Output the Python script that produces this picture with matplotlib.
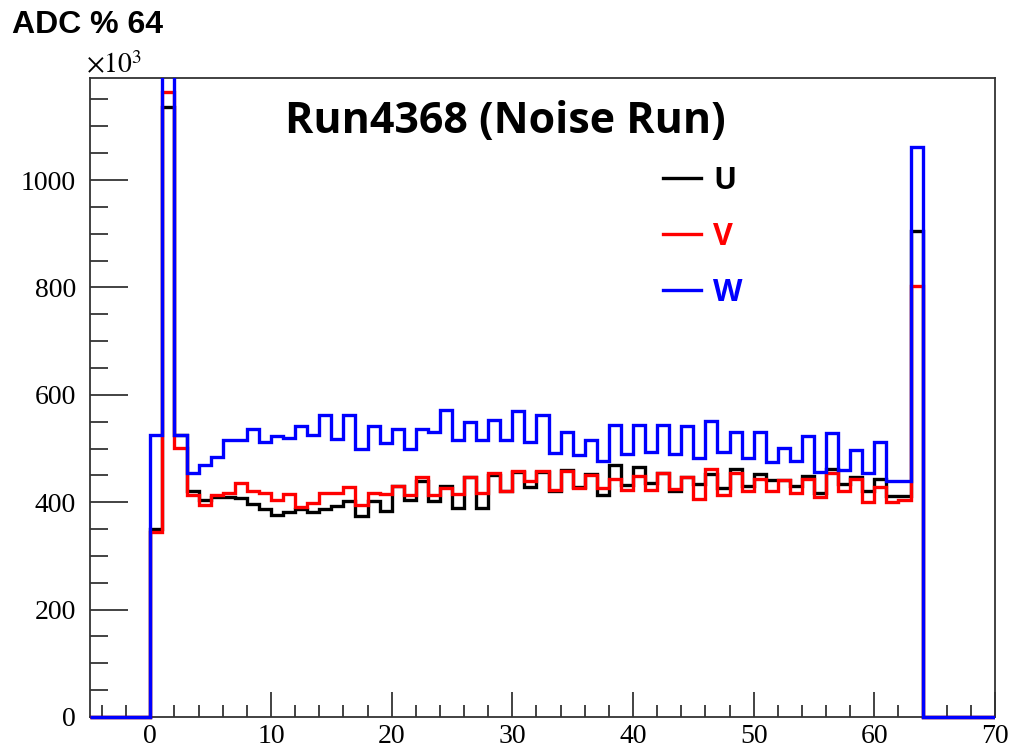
import numpy as np
import matplotlib
matplotlib.use("Agg")
import matplotlib.pyplot as plt
from matplotlib.ticker import MultipleLocator
from matplotlib.transforms import Bbox, TransformedBbox

# ---- data (counts in units of 10^3), bins of width 1 from 0 to 64 ----
u_counts = [351, 1136, 526, 421, 405, 410, 410, 407, 397, 387,
            376, 382, 387, 382, 387, 393, 403, 374, 403, 384,
            430, 405, 440, 403, 430, 389, 447, 390, 450, 420,
            457, 429, 456, 420, 460, 428, 452, 413, 469, 432,
            465, 435, 454, 420, 447, 434, 452, 426, 461, 430,
            452, 441, 441, 430, 449, 418, 461, 434, 447, 420,
            444, 411, 411, 905]
v_counts = [345, 1164, 501, 413, 395, 413, 417, 435, 420, 417,
            405, 415, 392, 398, 417, 417, 428, 395, 417, 415,
            430, 413, 447, 413, 427, 415, 447, 418, 454, 420,
            458, 440, 458, 423, 458, 427, 451, 427, 443, 422,
            449, 422, 454, 424, 447, 406, 462, 413, 454, 420,
            444, 420, 441, 417, 444, 410, 454, 420, 443, 401,
            429, 401, 405, 803]
w_counts = [525, 1300, 525, 455, 469, 484, 516, 516, 536, 513,
            523, 519, 541, 525, 562, 517, 562, 500, 541, 511,
            536, 500, 536, 531, 572, 516, 550, 516, 554, 516,
            569, 513, 562, 491, 531, 488, 516, 476, 544, 490,
            544, 493, 544, 490, 541, 482, 552, 494, 531, 482,
            531, 475, 501, 477, 523, 456, 529, 460, 497, 455,
            513, 440, 440, 1062]
series_labels = ["U", "V", "W"]
series_colors = ["#000000", "#ff0000", "#0000ff"]
x_min, x_max = -5, 70
first_bin = 0

edges = np.arange(x_min, x_max + 1)


def full_hist(vals):
    arr = np.zeros(len(edges) - 1)
    start = first_bin - x_min
    arr[start:start + len(vals)] = vals
    return arr


plt.rcParams["mathtext.fontset"] = "stix"

fig = plt.figure(figsize=(10.15, 7.52), dpi=100)
ax = fig.add_axes([90 / 1015, 35 / 752, 905 / 1015, 639 / 752])

clip = TransformedBbox(Bbox([[0, -0.01], [1, 1]]), ax.transAxes)
handles = []
for vals, lab, col in zip([u_counts, v_counts, w_counts], series_labels, series_colors):
    h = ax.stairs(full_hist(vals), edges, color=col, lw=2.4, label=lab, zorder=3)
    h.set_clip_box(clip)
    handles.append(h)

ax.set_xlim(x_min, x_max)
ax.set_ylim(0, 1190)

ax.xaxis.set_major_locator(MultipleLocator(10))
ax.xaxis.set_minor_locator(MultipleLocator(2))
ax.yaxis.set_major_locator(MultipleLocator(200))
ax.yaxis.set_minor_locator(MultipleLocator(50))

ax.tick_params(axis="both", which="both", direction="in", top=False, right=False,
               color="#222222", width=1.2)
ax.tick_params(axis="x", which="major", length=18, pad=5)
ax.tick_params(axis="x", which="minor", length=9)
ax.tick_params(axis="y", which="major", length=27, pad=10)
ax.tick_params(axis="y", which="minor", length=13)

for lbl in ax.get_xticklabels() + ax.get_yticklabels():
    lbl.set_fontfamily("Liberation Serif")
    lbl.set_fontsize(20)

for sp in ax.spines.values():
    sp.set_color("#333333")
    sp.set_linewidth(1.3)

fig.text(12 / 1015, 1 - 33 / 752, "ADC % 64", fontfamily="Liberation Sans",
         fontweight="bold", fontsize=23, va="baseline", ha="left")
fig.text(86 / 1015, 1 - 73 / 752, r"$\times10^{3}$", fontsize=20,
         va="baseline", ha="left")
fig.text(505 / 1015, 1 - 133 / 752, "Run4368 (Noise Run)", fontfamily="Open Sans",
         fontweight="bold", fontsize=31, va="baseline", ha="center")

leg = ax.legend(handles=handles, loc="upper left",
                bbox_to_anchor=((663 - 90) / 905, (717 - 166) / 639),
                frameon=False, borderpad=0, borderaxespad=0,
                handlelength=1.25, handletextpad=0.4, labelspacing=0.85,
                prop={"family": "Open Sans", "weight": "bold", "size": 22},
                labelcolor=series_colors)

fig.savefig("out.png", dpi=100)
